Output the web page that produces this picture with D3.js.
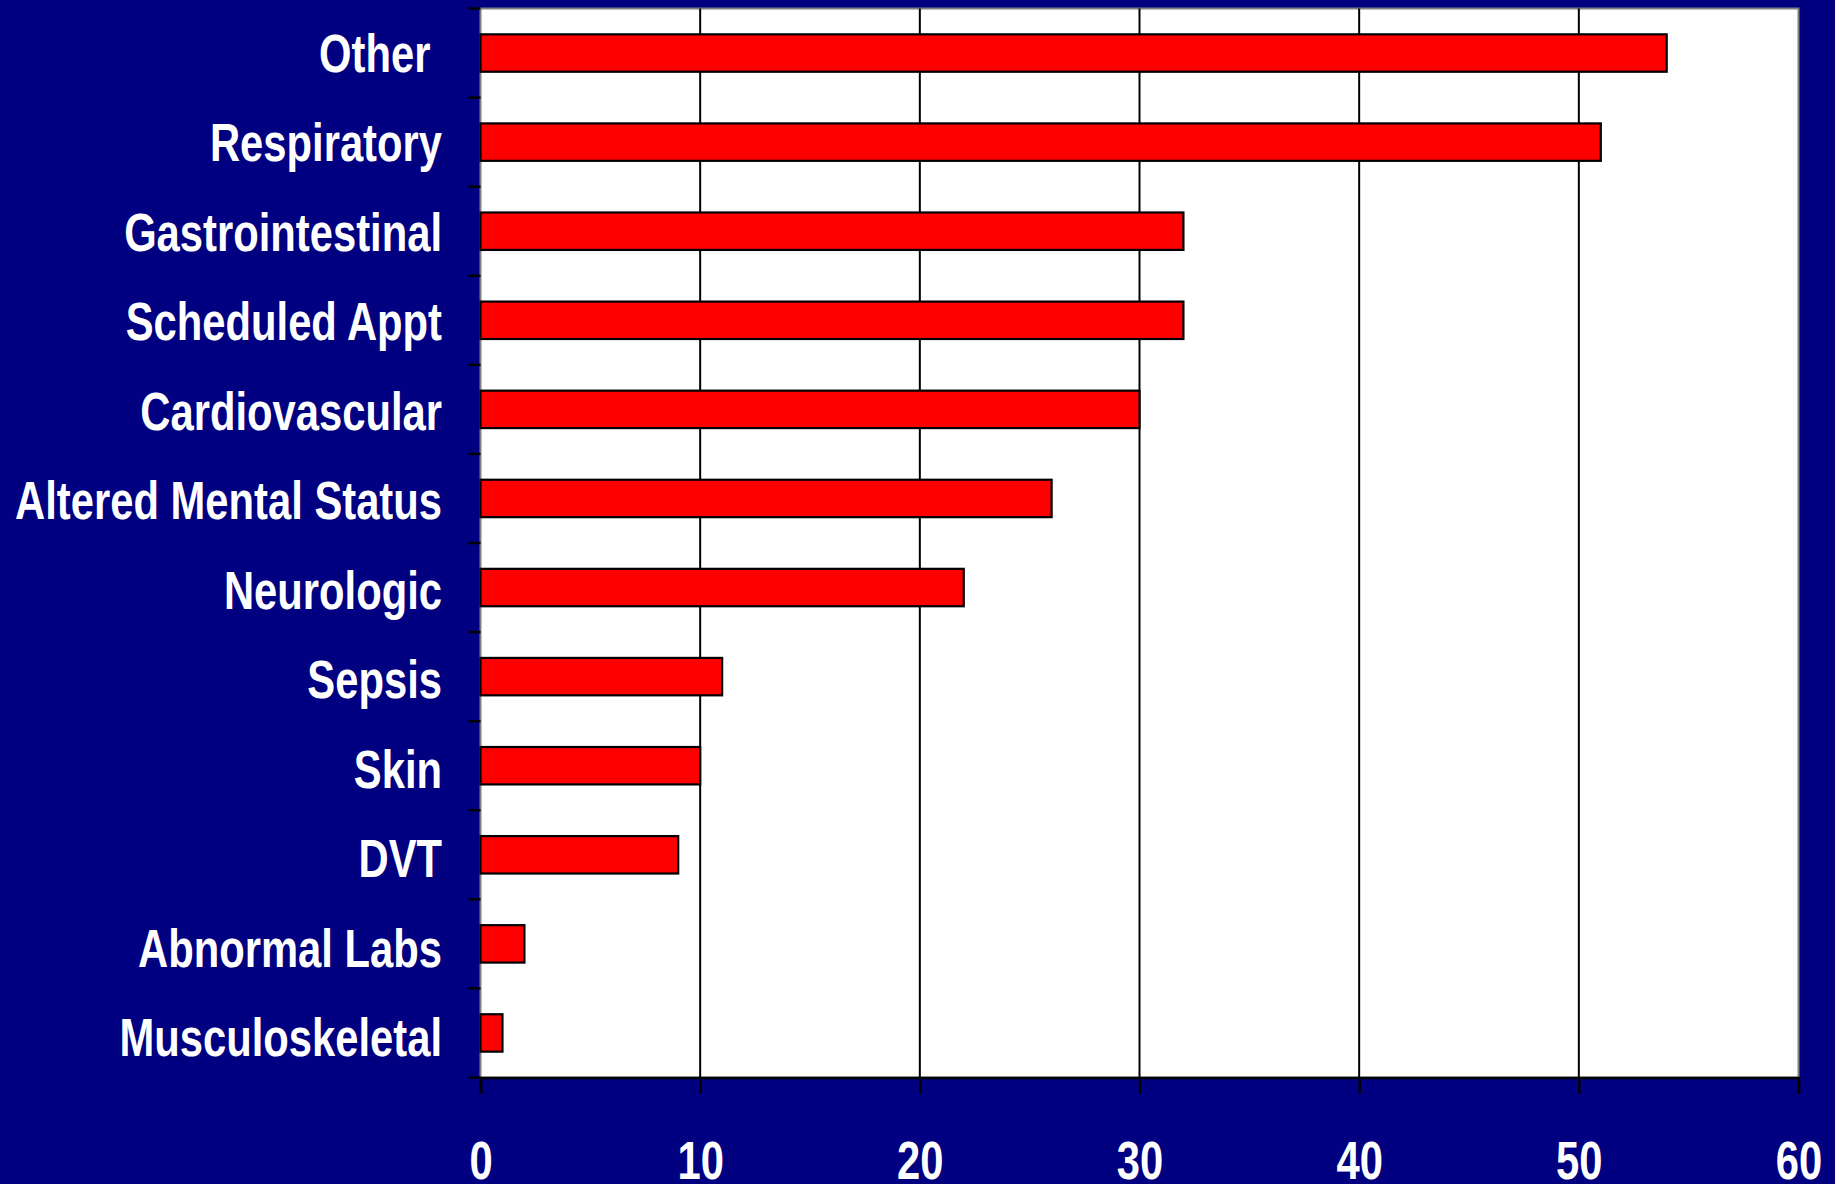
<!DOCTYPE html>
<html>
<head>
<meta charset="utf-8">
<script src="https://cdn.jsdelivr.net/npm/d3@7"></script>
<style>
  html, body { margin: 0; padding: 0; background: #000080; }
  svg { display: block; }
  text { font-family: "Liberation Sans", Arial, sans-serif; font-weight: bold; fill: #ffffff; }
</style>
</head>
<body>
<svg id="chart" width="1835" height="1184"></svg>
<script>
// Reasons for visits, top to bottom
const categories = [
  "Other\u00a0", "Respiratory", "Gastrointestinal", "Scheduled Appt", "Cardiovascular",
  "Altered Mental Status", "Neurologic", "Sepsis", "Skin", "DVT",
  "Abnormal Labs", "Musculoskeletal"
];
const counts = [54, 51, 32, 32, 30, 26, 22, 11, 10, 9, 2, 1];
const xTicks = [0, 10, 20, 30, 40, 50, 60];

const svg = d3.select("#chart");
const W = 1835, H = 1184;
const plot = { left: 480.5, right: 1798.5, top: 8.5, bottom: 1077.5 };
const FONT = 53;

svg.append("rect").attr("width", W).attr("height", H).attr("fill", "#000080");

// condensed look: squeeze the bold face horizontally so the widest label fits
const probe = svg.append("text").attr("font-size", FONT).text("Altered Mental Status");
const sx = 427 / probe.node().getComputedTextLength();
probe.remove();

const x = d3.scaleLinear().domain([0, 60]).range([plot.left, plot.right]);
const y = d3.scaleBand().domain(categories).range([plot.top, plot.bottom])
  .paddingInner(0.58).paddingOuter(0.29);
const yBand = d3.scaleBand().domain(categories).range([plot.top, plot.bottom]);
// label baselines
const yLabel = d3.scalePoint().domain(categories).range([72, 1056]);

// plot area
svg.append("rect")
  .attr("x", plot.left).attr("y", plot.top)
  .attr("width", plot.right - plot.left).attr("height", plot.bottom - plot.top)
  .attr("fill", "#ffffff")
  .attr("stroke", "#808080").attr("stroke-width", 2);

// vertical gridlines
svg.append("g").selectAll("line")
  .data(xTicks.filter(t => t > 0 && t < 60))
  .join("line")
  .attr("x1", d => x(d)).attr("x2", d => x(d))
  .attr("y1", plot.top).attr("y2", plot.bottom)
  .attr("stroke", "#000").attr("stroke-width", 2);

// bars
svg.append("g").selectAll("rect")
  .data(categories)
  .join("rect")
  .attr("x", x(0))
  .attr("y", d => y(d))
  .attr("width", (d, i) => x(counts[i]) - x(0))
  .attr("height", y.bandwidth())
  .attr("fill", "#ff0000")
  .attr("stroke", "#000").attr("stroke-width", 2.2);

// bottom axis
const xAxis = d3.axisBottom(x).tickValues(xTicks).tickSize(16).tickFormat(() => "");
const gx = svg.append("g").attr("transform", `translate(0,${plot.bottom})`).call(xAxis);
gx.select(".domain").attr("stroke", "#000").attr("stroke-width", 2.4);
gx.selectAll(".tick line").attr("stroke", "#000").attr("stroke-width", 2.4);
gx.selectAll(".tick").append("text")
  .attr("transform", `translate(0,${1179 - plot.bottom}) scale(${sx},1)`)
  .attr("text-anchor", "middle")
  .attr("font-size", FONT)
  .attr("fill", "#fff")
  .text(d => d);

// left axis: ticks on category boundaries
const boundaries = categories.map(c => yBand(c)).concat([plot.bottom]);
svg.append("g").selectAll("line")
  .data(boundaries)
  .join("line")
  .attr("x1", plot.left - 12).attr("x2", plot.left)
  .attr("y1", d => d).attr("y2", d => d)
  .attr("stroke", "#000").attr("stroke-width", 2.4);

// category labels
svg.append("g").selectAll("text")
  .data(categories)
  .join("text")
  .attr("transform", d => `translate(442,${yLabel(d)}) scale(${sx},1)`)
  .attr("text-anchor", "end")
  .attr("font-size", FONT)
  .text(d => d);
</script>
</body>
</html>
